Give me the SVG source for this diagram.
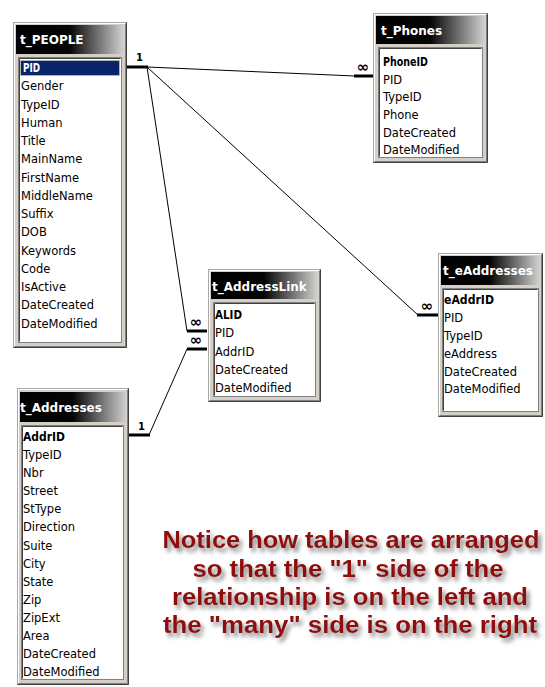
<svg xmlns="http://www.w3.org/2000/svg" width="545" height="687" viewBox="0 0 545 687">
<defs>
<linearGradient id="hg" x1="0" y1="0" x2="1" y2="0">
<stop offset="0" stop-color="#000"/>
<stop offset="0.5" stop-color="#050505"/>
<stop offset="1" stop-color="#cfcfcf"/>
</linearGradient>
<filter id="sh" x="-10%" y="-40%" width="120%" height="200%">
<feGaussianBlur in="SourceAlpha" stdDeviation="2.2" result="b"/>
<feOffset in="b" dx="3" dy="4" result="o"/>
<feFlood flood-color="#707070" flood-opacity="0.85"/>
<feComposite in2="o" operator="in" result="s"/>
<feMerge><feMergeNode in="s"/><feMergeNode in="SourceGraphic"/></feMerge>
</filter>
</defs>
<style>
.frame{fill:#d4d0c8;stroke:#a8a8a8;stroke-width:1}
.edge{fill:none;stroke:#404040;stroke-width:1}
.edge2{fill:none;stroke:#808080;stroke-width:1}
.hl{fill:none;stroke:#ffffff;stroke-width:1}
.hdr{fill:url(#hg)}
.title{font-family:"DejaVu Sans",sans-serif;font-size:12px;font-weight:bold;fill:#fff}
.list{fill:#fff;stroke:#808080;stroke-width:1}
.listin{fill:none;stroke:#404040;stroke-width:1}
.row{font-family:"DejaVu Sans",sans-serif;font-size:11.5px;fill:#000}
.key{font-weight:bold}
.sel{fill:#0a246a;stroke:#d8d8a0;stroke-width:1;stroke-dasharray:1 1}
.selt{fill:#fff}
.ln{stroke:#000;stroke-width:1;fill:none}
.bar{stroke:#000;stroke-width:3;fill:none}
.one{font-family:"DejaVu Sans",sans-serif;font-size:10px;font-weight:bold;fill:#000}
.many{font-family:"DejaVu Sans",sans-serif;font-size:15px;font-weight:bold;fill:#000;text-anchor:middle}
.note{font-family:"Liberation Sans",Arial,sans-serif;font-size:23px;font-weight:bold;fill:#900a0a;text-anchor:middle;filter:url(#sh)}
</style>
<rect width="545" height="687" fill="#fff"/>

<g id="t_PEOPLE">
<rect class="frame" x="13.5" y="22.5" width="113" height="325"/>
<polyline class="hl" points="14.5,346.5 14.5,23.5 125.5,23.5"/>
<polyline class="edge" points="126.5,22.5 126.5,347.5 13.5,347.5"/>
<polyline class="edge2" points="125.5,23.5 125.5,346.5 14.5,346.5"/>
<rect class="hdr" x="16" y="25" width="107" height="29"/>
<text class="title" x="20" y="44">t_PEOPLE</text>
<rect class="list" x="18.5" y="57.5" width="103" height="285"/>
<polyline class="listin" points="19.5,341.5 19.5,58.5 120.5,58.5"/>
<rect class="sel" x="20.5" y="60.5" width="99" height="15"/>
<text class="row key selt" x="23" y="72" textLength="17" lengthAdjust="spacingAndGlyphs">PID</text>
<text class="row" x="21" y="90">Gender</text>
<text class="row" x="21" y="109">TypeID</text>
<text class="row" x="21" y="127">Human</text>
<text class="row" x="21" y="145">Title</text>
<text class="row" x="21" y="163">MainName</text>
<text class="row" x="21" y="182">FirstName</text>
<text class="row" x="21" y="200">MiddleName</text>
<text class="row" x="21" y="218">Suffix</text>
<text class="row" x="21" y="236">DOB</text>
<text class="row" x="21" y="255">Keywords</text>
<text class="row" x="21" y="273">Code</text>
<text class="row" x="21" y="291">IsActive</text>
<text class="row" x="21" y="309">DateCreated</text>
<text class="row" x="21" y="328">DateModified</text>
</g>

<g id="t_Phones">
<rect class="frame" x="373.5" y="13.5" width="114" height="149"/>
<polyline class="hl" points="374.5,161.5 374.5,14.5 486.5,14.5"/>
<polyline class="edge" points="487.5,13.5 487.5,162.5 373.5,162.5"/>
<polyline class="edge2" points="486.5,14.5 486.5,161.5 374.5,161.5"/>
<rect class="hdr" x="376" y="16" width="108" height="28"/>
<text class="title" x="381" y="35">t_Phones</text>
<rect class="list" x="378.5" y="47.5" width="104" height="110"/>
<polyline class="listin" points="379.5,156.5 379.5,48.5 481.5,48.5"/>
<text class="row key" x="383" y="66" textLength="45" lengthAdjust="spacingAndGlyphs">PhoneID</text>
<text class="row" x="383" y="84">PID</text>
<text class="row" x="383" y="101">TypeID</text>
<text class="row" x="383" y="119">Phone</text>
<text class="row" x="383" y="137">DateCreated</text>
<text class="row" x="383" y="154">DateModified</text>
</g>

<g id="t_AddressLink">
<rect class="frame" x="208.5" y="269.5" width="112" height="132"/>
<polyline class="hl" points="209.5,400.5 209.5,270.5 319.5,270.5"/>
<polyline class="edge" points="320.5,269.5 320.5,401.5 208.5,401.5"/>
<polyline class="edge2" points="319.5,270.5 319.5,400.5 209.5,400.5"/>
<rect class="hdr" x="211" y="272" width="106" height="27"/>
<text class="title" x="212" y="291">t_AddressLink</text>
<rect class="list" x="213.5" y="302.5" width="102" height="94"/>
<polyline class="listin" points="214.5,395.5 214.5,303.5 314.5,303.5"/>
<text class="row key" x="215" y="319" textLength="27" lengthAdjust="spacingAndGlyphs">ALID</text>
<text class="row" x="215" y="337">PID</text>
<text class="row" x="215" y="356">AddrID</text>
<text class="row" x="215" y="374">DateCreated</text>
<text class="row" x="215" y="392">DateModified</text>
</g>

<g id="t_eAddresses">
<rect class="frame" x="438.5" y="253.5" width="104" height="163"/>
<polyline class="hl" points="439.5,415.5 439.5,254.5 541.5,254.5"/>
<polyline class="edge" points="542.5,253.5 542.5,416.5 438.5,416.5"/>
<polyline class="edge2" points="541.5,254.5 541.5,415.5 439.5,415.5"/>
<rect class="hdr" x="441" y="256" width="98" height="29"/>
<text class="title" x="443" y="275">t_eAddresses</text>
<rect class="list" x="442.5" y="288.5" width="96" height="123"/>
<polyline class="listin" points="443.5,410.5 443.5,289.5 537.5,289.5"/>
<text class="row key" x="444" y="304" textLength="50" lengthAdjust="spacingAndGlyphs">eAddrID</text>
<text class="row" x="444" y="322">PID</text>
<text class="row" x="444" y="340">TypeID</text>
<text class="row" x="444" y="358">eAddress</text>
<text class="row" x="444" y="376">DateCreated</text>
<text class="row" x="444" y="393">DateModified</text>
</g>

<g id="t_Addresses">
<rect class="frame" x="17.5" y="388.5" width="111" height="296"/>
<polyline class="hl" points="18.5,683.5 18.5,389.5 127.5,389.5"/>
<polyline class="edge" points="128.5,388.5 128.5,684.5 17.5,684.5"/>
<polyline class="edge2" points="127.5,389.5 127.5,683.5 18.5,683.5"/>
<rect class="hdr" x="20" y="392" width="106" height="30"/>
<text class="title" x="20" y="412">t_Addresses</text>
<rect class="list" x="21.5" y="425.5" width="102" height="254"/>
<polyline class="listin" points="22.5,678.5 22.5,426.5 122.5,426.5"/>
<text class="row key" x="23" y="441" textLength="42" lengthAdjust="spacingAndGlyphs">AddrID</text>
<text class="row" x="23" y="459">TypeID</text>
<text class="row" x="23" y="477">Nbr</text>
<text class="row" x="23" y="495">Street</text>
<text class="row" x="23" y="513">StType</text>
<text class="row" x="23" y="531">Direction</text>
<text class="row" x="23" y="550">Suite</text>
<text class="row" x="23" y="568">City</text>
<text class="row" x="23" y="586">State</text>
<text class="row" x="23" y="604">Zip</text>
<text class="row" x="23" y="622">ZipExt</text>
<text class="row" x="23" y="640">Area</text>
<text class="row" x="23" y="658">DateCreated</text>
<text class="row" x="23" y="676">DateModified</text>
</g>

<g id="connectors">
<line class="bar" x1="127" y1="67" x2="148" y2="67"/>
<text class="one" x="136" y="61">1</text>
<line class="ln" x1="147" y1="67" x2="355" y2="76"/>
<line class="bar" x1="354" y1="76" x2="373" y2="76"/>
<text class="many" x="363" y="72">∞</text>
<line class="ln" x1="147" y1="67" x2="418" y2="315"/>
<line class="bar" x1="417" y1="315" x2="438" y2="315"/>
<text class="many" x="427" y="311">∞</text>
<line class="ln" x1="147" y1="67" x2="187" y2="331"/>
<line class="bar" x1="187" y1="331" x2="207" y2="331"/>
<text class="many" x="196" y="327">∞</text>
<line class="bar" x1="129" y1="435" x2="150" y2="435"/>
<text class="one" x="138" y="430">1</text>
<line class="ln" x1="149" y1="435" x2="187" y2="349"/>
<line class="bar" x1="187" y1="349" x2="207" y2="349"/>
<text class="many" x="196" y="345">∞</text>
</g>

<g id="note">
<text class="note" x="351" y="548" textLength="377" lengthAdjust="spacingAndGlyphs">Notice how tables are arranged</text>
<text class="note" x="348" y="577" textLength="311" lengthAdjust="spacingAndGlyphs">so that the "1" side of the</text>
<text class="note" x="350" y="605" textLength="356" lengthAdjust="spacingAndGlyphs">relationship is on the left and</text>
<text class="note" x="350" y="633" textLength="374" lengthAdjust="spacingAndGlyphs">the "many" side is on the right</text>
</g>
</svg>
